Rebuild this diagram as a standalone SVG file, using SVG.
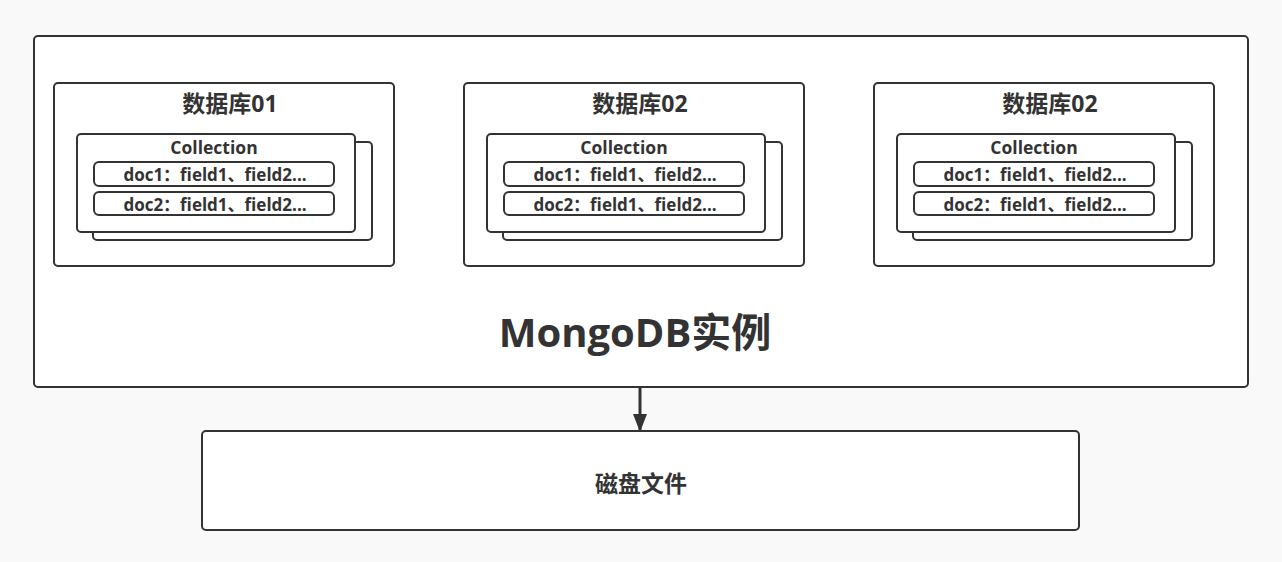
<svg xmlns="http://www.w3.org/2000/svg" width="1282" height="562" viewBox="0 0 1282 562">
<defs>
<style>
.box{fill:#ffffff;stroke:#333333;stroke-width:2}
.t{font-family:"Open Sans","Noto Sans CJK SC",sans-serif;font-weight:bold;fill:#333333;text-anchor:middle}
.title{font-size:23px}
.coll{font-size:17.5px}
.doc{font-size:17px}
</style>
<marker id="arr" markerWidth="18" markerHeight="14" refX="17" refY="7" orient="auto" markerUnits="userSpaceOnUse">
<path d="M0,0 L18,7 L0,14 Z" fill="#333333"/>
</marker>
</defs>
<rect width="1282" height="562" fill="#f9f9f9"/>
<g id="instance">
<rect class="box" x="34" y="36" width="1214" height="351" rx="4"/>
<text class="t" x="635" y="347" font-size="40">MongoDB实例</text>
</g>
<g id="db1">
<rect class="box" x="54" y="83" width="340" height="183" rx="4"/>
<text class="t title" x="230" y="112">数据库01</text>
<rect class="box" x="93" y="142" width="279" height="98" rx="4"/>
<rect class="box" x="77" y="134" width="278" height="98" rx="4"/>
<text class="t coll" x="214" y="154">Collection</text>
<rect class="box" x="94" y="162" width="240" height="24" rx="5"/>
<text class="t doc" x="215" y="181">doc1：field1、field2...</text>
<rect class="box" x="94" y="192" width="240" height="23" rx="5"/>
<text class="t doc" x="215" y="211">doc2：field1、field2...</text>
</g>
<g id="db2">
<rect class="box" x="464" y="83" width="340" height="183" rx="4"/>
<text class="t title" x="640" y="112">数据库02</text>
<rect class="box" x="503" y="142" width="279" height="98" rx="4"/>
<rect class="box" x="487" y="134" width="278" height="98" rx="4"/>
<text class="t coll" x="624" y="154">Collection</text>
<rect class="box" x="504" y="162" width="240" height="24" rx="5"/>
<text class="t doc" x="625" y="181">doc1：field1、field2...</text>
<rect class="box" x="504" y="192" width="240" height="23" rx="5"/>
<text class="t doc" x="625" y="211">doc2：field1、field2...</text>
</g>
<g id="db3">
<rect class="box" x="874" y="83" width="340" height="183" rx="4"/>
<text class="t title" x="1050" y="112">数据库02</text>
<rect class="box" x="913" y="142" width="279" height="98" rx="4"/>
<rect class="box" x="897" y="134" width="278" height="98" rx="4"/>
<text class="t coll" x="1034" y="154">Collection</text>
<rect class="box" x="914" y="162" width="240" height="24" rx="5"/>
<text class="t doc" x="1035" y="181">doc1：field1、field2...</text>
<rect class="box" x="914" y="192" width="240" height="23" rx="5"/>
<text class="t doc" x="1035" y="211">doc2：field1、field2...</text>
</g>
<g id="disk">
<rect class="box" x="202" y="431" width="877" height="99" rx="4"/>
<text class="t" x="641" y="492" font-size="23">磁盘文件</text>
</g>
<g id="connectors">
<line x1="640" y1="388" x2="640" y2="431" stroke="#333333" stroke-width="3" marker-end="url(#arr)"/>
</g>
</svg>
